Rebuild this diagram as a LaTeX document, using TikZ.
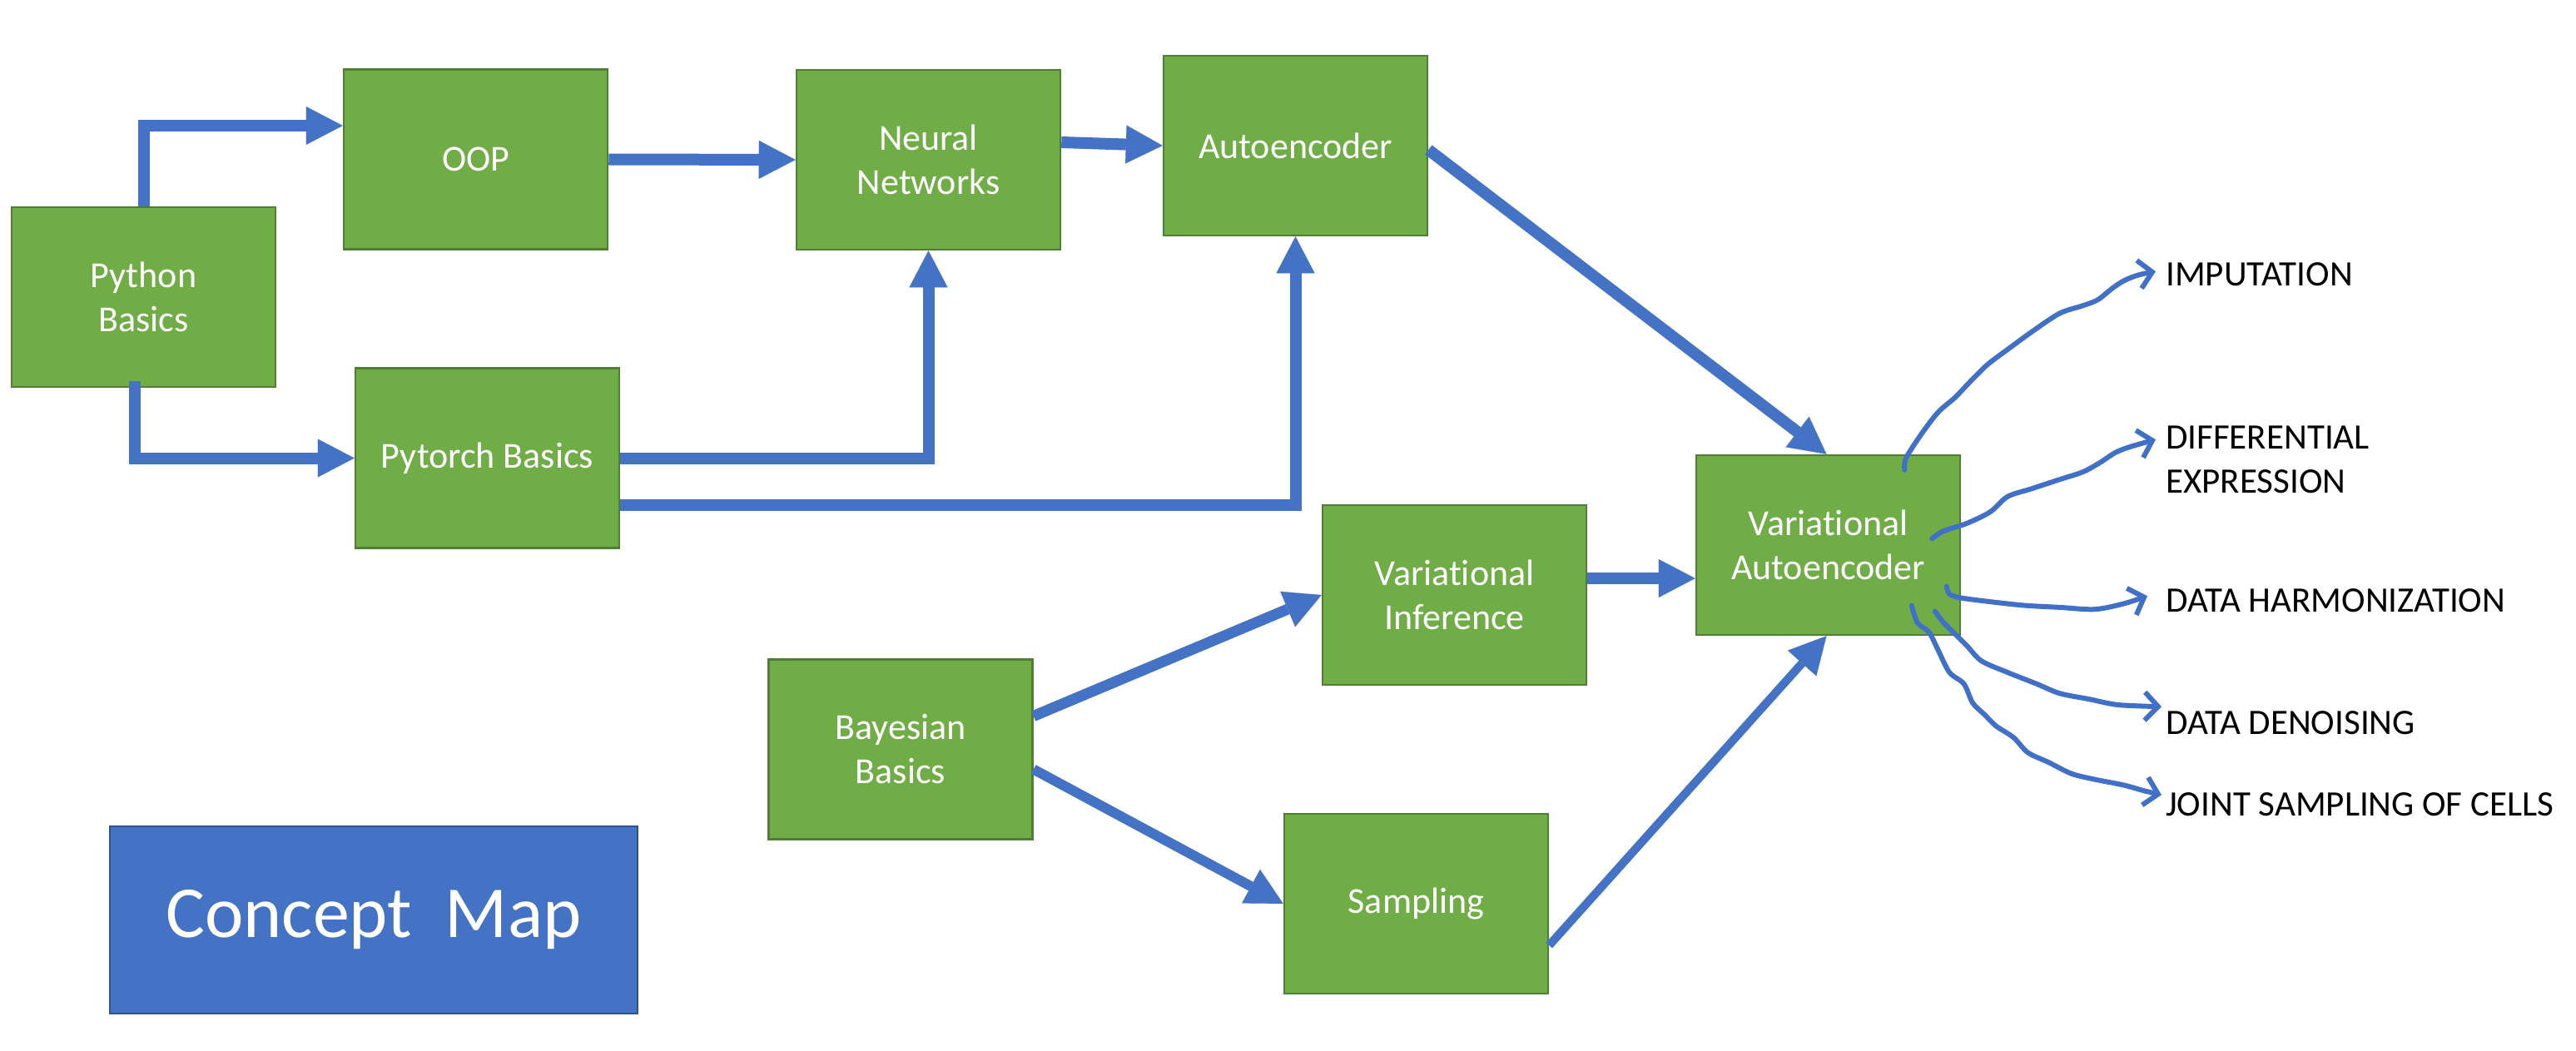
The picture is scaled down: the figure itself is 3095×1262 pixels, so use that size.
\documentclass[tikz,border=0pt]{standalone}
\usepackage{fontspec}
\setmainfont{Carlito}[Ligatures=NoCommon]
\usetikzlibrary{arrows.meta}
\definecolor{boxgreen}{HTML}{70AD47}
\definecolor{boxedge}{HTML}{507E32}
\definecolor{arrowblue}{HTML}{4472C4}
\definecolor{mapedge}{HTML}{2F528F}
\definecolor{penblue}{HTML}{4070C8}
\begin{document}
\begin{tikzpicture}[x=1pt,y=-1pt,
  concept/.style={draw=boxedge, line width=2.5pt, fill=boxgreen, minimum width=317pt, minimum height=216pt, inner sep=0pt, text=white, align=center, font=\fontsize{44}{53}\selectfont},
  mapbox/.style={draw=mapedge, line width=2.5pt, fill=arrowblue, minimum width=634pt, minimum height=225pt, inner sep=0pt, text=white, font=\fontsize{88}{100}\selectfont},
  outlabel/.style={anchor=base west, inner sep=0pt, font=\fontsize{43}{53}\selectfont, text=black, align=left},
  bigarrow/.style={draw=arrowblue, line width=14pt, line join=miter, -{Triangle[length=44pt,width=46pt,line width=0.1pt]}},
  pen/.style={draw=penblue, line width=6pt, line cap=round, line join=round, -{Straight Barb[length=16pt,width=34pt,line width=6pt]}}]
\fill[white] (0,0) rectangle (3095,1262);
\useasboundingbox (0,0) rectangle (3095,1262);

% concept boxes
\node[concept] (py) at (172.5,357) {Python\\Basics};
\node[concept] (oop) at (571.5,191.5) {OOP};
\node[concept] (pyt) at (585.5,550.5) {Pytorch Basics};
\node[concept] (nn) at (1115.5,192) {Neural\\Networks};
\node[concept] (ae) at (1556.5,175) {Autoencoder};
\node[concept] (vae) at (2196.5,655) {Variational\\Autoencoder};
\node[concept] (vi) at (1747.5,715) {Variational\\Inference};
\node[concept] (bay) at (1082,900.5) {Bayesian\\Basics};
\node[concept] (samp) at (1701.5,1086) {Sampling};
\node[mapbox] (map) at (449,1105.5) {Concept\ \ Map};

% outcome labels
\node[outlabel] (imp) at (2602,343) {IMPUTATION};
\node[outlabel] (diff) at (2602,592) {DIFFERENTIAL\\EXPRESSION};
\node[outlabel] (harm) at (2602,735.5) {DATA HARMONIZATION};
\node[outlabel] (den) at (2602,882) {DATA DENOISING};
\node[outlabel] (joint) at (2602,980) {JOINT SAMPLING OF CELLS};

% thick connectors
\draw[bigarrow] (py.north) |- ([yshift=40.5pt]oop.west);
\draw[bigarrow] ([xshift=-11pt,yshift=8pt]py.south) |- (pyt.west);
\draw[bigarrow] (oop.east) -- (nn.west);
\draw[bigarrow] ([yshift=21pt]nn.east) -- (ae.west);
\draw[bigarrow] (pyt.east) -| (nn.south);
\draw[bigarrow] ([yshift=-56.5pt]pyt.east) -| (ae.south);
\draw[bigarrow] ([yshift=-5pt]ae.east) -- ([xshift=-2pt]vae.north);
\draw[bigarrow] ([yshift=20pt]vi.east) -- ([yshift=-40pt]vae.west);
\draw[bigarrow, line width=13pt] ([yshift=40pt]bay.east) -- (vi.west);
\draw[bigarrow, line width=12pt] ([yshift=-24pt]bay.east) -- (samp.west);
\draw[bigarrow, line width=10pt] ([yshift=-50pt]samp.east) -- ([xshift=-2pt]vae.south);

% hand-drawn outcome arrows
\coordinate (o1) at (2288.4,564.7);
\coordinate (o2) at (2321.2,647.3);
\coordinate (o3) at (2338.7,704.7);
\coordinate (o4) at (2324.7,734.5);
\coordinate (o5) at (2296.8,727.6);
\draw[pen] plot[smooth, tension=0.5] coordinates {(o1) (2289.8,550.9) (2307.3,523.3) (2328.2,495.8) (2349.2,477.4) (2366.6,459.1) (2387.6,438.4) (2412.0,420.0) (2443.4,397.1) (2474.9,376.4) (2502.8,367.2) (2520.3,360.3) (2537.7,346.6) (2551.7,337.4) (2569.1,330.5) ([xshift=-12pt,yshift=3pt]imp.west)};
\draw[pen] plot[smooth, tension=0.5] coordinates {(o2) (2335.2,638.1) (2363.1,628.9) (2391.1,615.2) (2412.0,596.8) (2439.9,587.6) (2474.9,576.1) (2502.8,567.0) (2523.7,555.5) (2541.2,544.0) (2558.7,537.1) ([xshift=-12pt,yshift=-17pt]diff.north west)};
\draw[pen] plot[smooth, tension=0.5] coordinates {(o3) (2342.2,713.9) (2356.1,718.5) (2391.1,723.1) (2433.0,727.6) (2474.9,729.9) (2516.8,732.2) (2551.7,725.4) ([xshift=-22pt,yshift=5.5pt]harm.west)};
\draw[pen] plot[smooth, tension=0.5] coordinates {(o4) (2335.2,748.3) (2349.2,762.1) (2363.1,775.9) (2380.6,794.2) (2412.0,808.0) (2446.9,821.8) (2474.9,833.3) (2509.8,840.1) (2544.7,847.0) ([xshift=-5pt,yshift=19pt]den.west)};
\draw[pen] plot[smooth, tension=0.5] coordinates {(o5) (2303.8,748.3) (2317.7,759.8) (2328.2,780.4) (2342.2,808.0) (2359.6,821.8) (2370.1,844.7) (2384.1,858.5) (2398.0,872.3) (2419.0,886.1) (2436.5,904.4) (2460.9,915.9) (2488.8,929.7) (2516.8,936.6) (2551.7,943.5) (2576.1,950.3) ([xshift=-5pt,yshift=11pt]joint.west)};
\end{tikzpicture}
\end{document}
